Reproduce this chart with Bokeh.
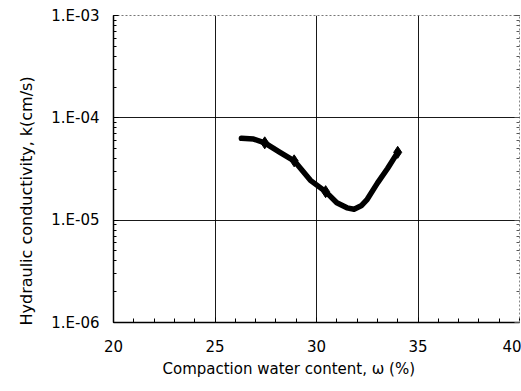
from bokeh.plotting import figure
from bokeh.models import (LogAxis, LinearAxis, FixedTicker, LogTicker, SingleIntervalTicker,
                          Title, CustomJSTickFormatter)
from bokeh.embed import file_html
from bokeh.resources import INLINE

# Data
water_content = [26.3, 26.9, 27.45, 28.2, 28.9, 29.7, 30.45, 31.0, 31.5, 31.85, 32.2, 32.5, 33.0, 33.5, 34.0]
conductivity = [6.3e-5, 6.2e-5, 5.7e-5, 4.6e-5, 3.8e-5, 2.45e-5, 1.9e-5, 1.48e-5, 1.32e-5, 1.28e-5,
                1.38e-5, 1.6e-5, 2.3e-5, 3.2e-5, 4.6e-5]
marker_w = [27.45, 28.9, 30.45, 34.0]
marker_k = [5.7e-5, 3.8e-5, 1.9e-5, 4.6e-5]
x_grid_ticks = [25, 30, 35]
y_grid_ticks = [1e-5, 1e-4]

FONT = "DejaVu Sans"

p = figure(width=521, height=391, y_axis_type="log", x_range=(20, 40), y_range=(1e-6, 1e-3),
           output_backend="svg", toolbar_location=None,
           min_border_left=113, min_border_right=2, min_border_top=15, min_border_bottom=69,
           background_fill_color="white", border_fill_color="white")
p.outline_line_color = None

# grids
p.xgrid.ticker = FixedTicker(ticks=x_grid_ticks)
p.ygrid.ticker = FixedTicker(ticks=y_grid_ticks)
for g in (p.xgrid, p.ygrid):
    g.grid_line_color = "black"
    g.grid_line_width = 1
    g.grid_line_alpha = 0.9

# bottom axis
xa = p.xaxis[0]
xa.ticker = SingleIntervalTicker(interval=5, num_minor_ticks=5)
xa.major_tick_in = 5
xa.major_tick_out = 0
xa.minor_tick_in = 4
xa.minor_tick_out = 0
xa.axis_line_color = "black"
xa.axis_line_width = 1.5
xa.major_label_standoff = 17
xa.major_label_text_font = FONT
xa.major_label_text_font_size = "15px"
xa.major_label_text_color = "black"

# left axis
ya = p.yaxis[0]
ya.ticker = LogTicker(num_minor_ticks=10)
ya.formatter = CustomJSTickFormatter(code="""
const e = Math.round(Math.log10(tick));
return "1.E" + (e < 0 ? "-" : "+") + String(Math.abs(e)).padStart(2, "0");
""")
ya.major_tick_in = 5
ya.major_tick_out = 0
ya.minor_tick_in = 3
ya.minor_tick_out = 0
ya.axis_line_color = "black"
ya.axis_line_width = 1.5
ya.major_label_standoff = 14
ya.major_label_text_font = FONT
ya.major_label_text_font_size = "15px"
ya.major_label_text_color = "black"

blank = CustomJSTickFormatter(code="return '';")

# right axis (ticks only)
ra = LogAxis(ticker=LogTicker(num_minor_ticks=10), formatter=blank)
ra.major_label_standoff = 0
ra.major_tick_in = 5
ra.major_tick_out = 0
ra.minor_tick_in = 3
ra.minor_tick_out = 0
ra.major_tick_line_color = "#555555"
ra.minor_tick_line_color = "#555555"
ra.axis_line_color = "#888888"
ra.axis_line_dash = "2 2"
ra.axis_line_width = 1
p.add_layout(ra, "right")

# top axis (dotted frame line)
ta = LinearAxis(ticker=FixedTicker(ticks=[20]), formatter=CustomJSTickFormatter(code="return '';"))
ta.major_label_standoff = 0
ta.major_tick_in = 0
ta.major_tick_out = 0
ta.minor_tick_in = 0
ta.minor_tick_out = 0
ta.axis_line_color = "#777777"
ta.axis_line_dash = "2 2"
ta.axis_line_width = 1
p.add_layout(ta, "above")

# data
p.line(water_content, conductivity, line_color="black", line_width=5.5,
       line_join="round", line_cap="round")
p.scatter(marker_w, marker_k, marker="diamond", size=12, color="black")

# axis titles as side-panel titles (offset along the axis)
ylab = Title(text="Hydraulic conductivity, k(cm/s)", align="left", offset=-3, standoff=25,
             text_font=FONT, text_font_size="16px", text_font_style="normal", text_color="black")
xlab = Title(text="Compaction water content, \u03c9 (%)", align="left", offset=49, standoff=7,
             text_font=FONT, text_font_size="15px", text_font_style="normal", text_color="black")
p.add_layout(ylab, "left")
p.add_layout(xlab, "below")

open("out.html", "w").write(file_html(p, INLINE))
